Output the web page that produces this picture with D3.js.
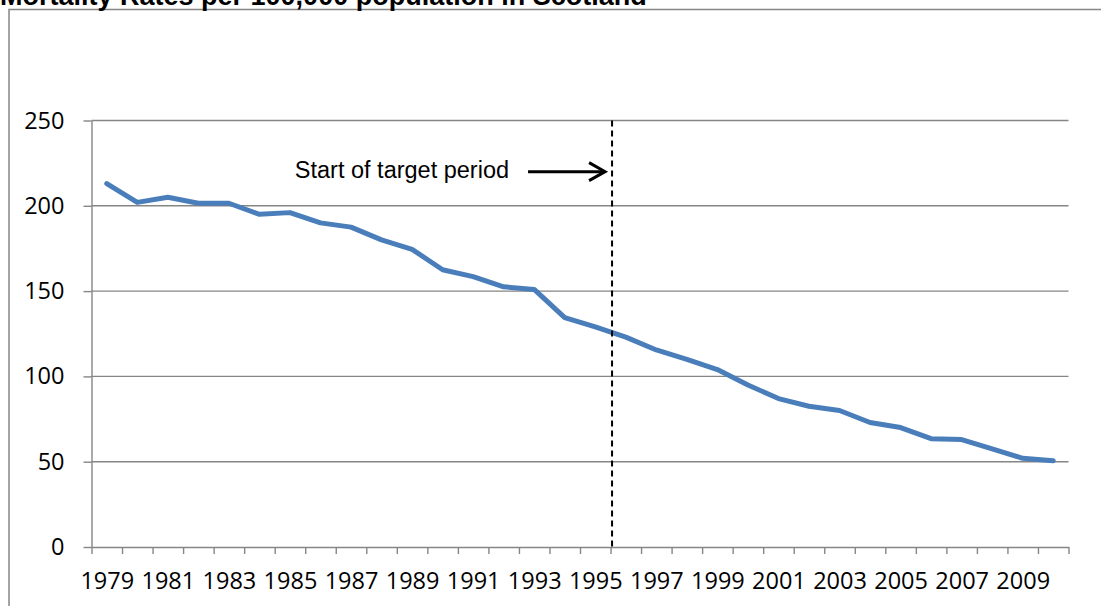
<!DOCTYPE html>
<html>
<head>
<meta charset="utf-8">
<script src="https://cdn.jsdelivr.net/npm/d3@7"></script>
<style>
  html, body { margin: 0; padding: 0; background: #fff; }
  svg { display: block; }
</style>
</head>
<body>
<svg id="chart" width="1101" height="606"></svg>
<script>
const titleText = "Mortality Rates per 100,000 population in Scotland";
const years = [1979,1980,1981,1982,1983,1984,1985,1986,1987,1988,1989,1990,1991,1992,1993,1994,1995,1996,1997,1998,1999,2000,2001,2002,2003,2004,2005,2006,2007,2008,2009,2010];
const rates = [213,202,205,201.5,201.5,195,196,190,187.5,180,174.5,162.5,158.5,152.5,151,134.5,129,123,115.5,110,104,95,87,82.5,80,73,70,63.5,63,57.5,52,50.5];
const yTicks = [0,50,100,150,200,250];
const xLabelYears = [1979,1981,1983,1985,1987,1989,1991,1993,1995,1997,1999,2001,2003,2005,2007,2009];
const annotationText = "Start of target period";
const targetStartYear = 1995.55;
const annotationLevel = 220;

const svg = d3.select("#chart");
const plotLeft = 91.5, plotRight = 1068.5, plotTop = 120.5, plotBottom = 547;
const gray = "#868686";
const tickFont = "Open Sans, Noto Sans, sans-serif";
const tickFontSize = 23.5;

const x = d3.scaleLinear().domain([years[0] - 0.5, years[years.length - 1] + 0.5]).range([plotLeft, plotRight]);
const y = d3.scaleLinear().domain([0, 250]).range([plotBottom, plotTop]);

// outer border
svg.append("rect")
  .attr("x", 9).attr("y", 9.5)
  .attr("width", 1101).attr("height", 606)
  .attr("fill", "none").attr("stroke", gray).attr("stroke-width", 1.5);

// title
svg.append("text")
  .attr("x", 0).attr("y", 5)
  .attr("font-family", "Liberation Sans, Arial, sans-serif")
  .attr("font-weight", "bold").attr("font-size", 27)
  .attr("fill", "#000")
  .text(titleText);

// gridlines
svg.append("g").selectAll("line").data(yTicks.filter(d => d > 0)).join("line")
  .attr("x1", plotLeft).attr("x2", plotRight)
  .attr("y1", d => y(d)).attr("y2", d => y(d))
  .attr("stroke", gray).attr("stroke-width", 1.4);

// y axis
const yAxis = svg.append("g").attr("transform", `translate(${plotLeft},0)`)
  .call(d3.axisLeft(y).tickValues(yTicks).tickSize(8).tickPadding(19).tickSizeOuter(0));
yAxis.select(".domain").attr("stroke", gray).attr("stroke-width", 1.4);
yAxis.selectAll(".tick line").attr("stroke", gray).attr("stroke-width", 1.4);
yAxis.selectAll(".tick text")
  .attr("font-family", tickFont).attr("font-size", tickFontSize).attr("fill", "#000");

// x axis ticks at category boundaries
const boundaries = d3.range(years.length + 1).map(i => years[0] - 0.5 + i);
const xAxis = svg.append("g").attr("transform", `translate(0,${plotBottom})`)
  .call(d3.axisBottom(x).tickValues(boundaries).tickSize(7).tickSizeOuter(0).tickFormat(""));
xAxis.select(".domain").attr("stroke", gray).attr("stroke-width", 1.4);
xAxis.selectAll(".tick line").attr("stroke", gray).attr("stroke-width", 1.4);

// x labels
const xLab = svg.append("g").attr("transform", `translate(0,${plotBottom})`)
  .call(d3.axisBottom(x).tickValues(xLabelYears).tickSize(0).tickPadding(25).tickFormat(d3.format("d")));
xLab.select(".domain").remove();
xLab.selectAll(".tick text")
  .attr("font-family", tickFont).attr("font-size", tickFontSize).attr("fill", "#000");

// data line
const line = d3.line().x((d, i) => x(years[i])).y(d => y(d));
svg.append("path").datum(rates)
  .attr("d", line)
  .attr("fill", "none").attr("stroke", "#4a7ebb").attr("stroke-width", 5)
  .attr("stroke-linejoin", "round").attr("stroke-linecap", "round");

// dashed target line
svg.append("line")
  .attr("x1", x(targetStartYear)).attr("x2", x(targetStartYear))
  .attr("y1", y(250)).attr("y2", y(0))
  .attr("stroke", "#000").attr("stroke-width", 2).attr("stroke-dasharray", "6,4");

// arrow annotation
const ay = y(annotationLevel);
const tipX = x(targetStartYear) - 7;
const startX = tipX - 77;
svg.append("line")
  .attr("x1", startX).attr("x2", tipX - 1).attr("y1", ay).attr("y2", ay)
  .attr("stroke", "#000").attr("stroke-width", 3);
svg.append("path")
  .attr("d", `M${tipX - 16},${ay - 9} L${tipX},${ay} L${tipX - 16},${ay + 9}`)
  .attr("fill", "none").attr("stroke", "#000").attr("stroke-width", 3)
  .attr("stroke-linejoin", "miter");
svg.append("text")
  .attr("x", startX - 19).attr("y", ay + 6.5)
  .attr("text-anchor", "end")
  .attr("font-family", "Liberation Sans, Arial, sans-serif").attr("font-size", 23.5)
  .attr("fill", "#000")
  .text(annotationText);
</script>
</body>
</html>
